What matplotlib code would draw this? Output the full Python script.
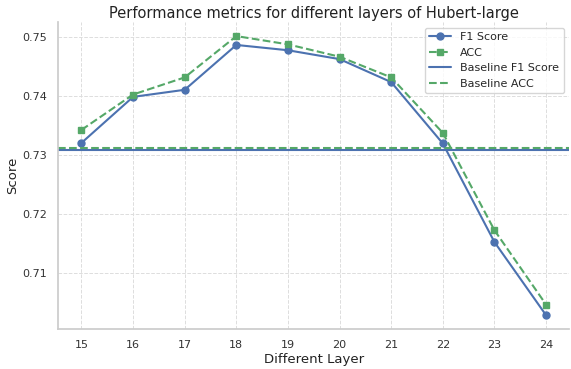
from matplotlib import pyplot as plt
import seaborn as sns

layers = [15, 16, 17, 18, 19, 20, 21, 22, 23, 24]
f1_scores = [0.7321, 0.7399, 0.7411, 0.7487, 0.7478, 0.7463, 0.7424, 0.7320, 0.7153, 0.7029]
acc_scores = [0.7343, 0.7403, 0.7432, 0.7502, 0.7488, 0.7467, 0.7432, 0.7338, 0.7173, 0.7047]
baseline_f1 = 0.7309
baseline_acc = 0.7313


def main():
    sns.set_theme(style='whitegrid')
    blue, green = sns.color_palette('deep')[0], sns.color_palette('deep')[2]

    fig, ax = plt.subplots(figsize=(5.71, 3.69), dpi=100)
    ax.plot(layers, f1_scores, marker='o', markersize=5, color=blue,
            linewidth=1.5, label='F1 Score')
    ax.plot(layers, acc_scores, marker='s', markersize=5, color=green,
            linewidth=1.5, linestyle='--', label='ACC')
    ax.axhline(baseline_f1, color=blue, linewidth=1.5, label='Baseline F1 Score')
    ax.axhline(baseline_acc, color=green, linewidth=1.5, linestyle='--',
               label='Baseline ACC')

    ax.set_xticks(layers)
    ax.tick_params(labelsize=8, colors='#333333', pad=2)
    ax.set_xlabel('Different Layer', fontsize=9.5, color='#222222', labelpad=2)
    ax.set_ylabel('Score', fontsize=9.5, color='#222222', labelpad=2)
    ax.set_title('Performance metrics for different layers of Hubert-large',
                 fontsize=10.5, color='#222222', pad=3)
    ax.grid(True, linestyle='--', linewidth=0.7, color='#dddddd')
    sns.despine(ax=ax)
    for s in ['left', 'bottom']:
        ax.spines[s].set_color('#cccccc')
    ax.legend(loc='upper right', fontsize=8, frameon=True,
              borderaxespad=0.5, handlelength=2.0)

    fig.subplots_adjust(left=0.102, right=0.997, top=0.94, bottom=0.108)
    fig.savefig('out.png')


if __name__ == "__main__":
    main()
